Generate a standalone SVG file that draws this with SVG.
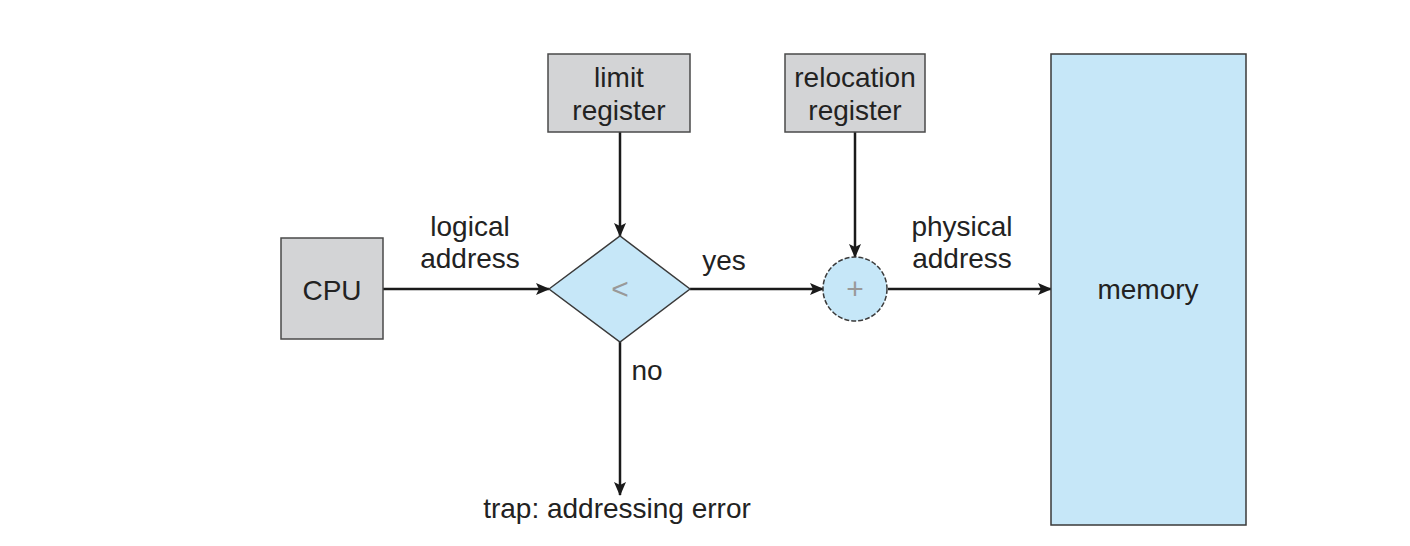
<svg xmlns="http://www.w3.org/2000/svg" width="1410" height="546" viewBox="0 0 1410 546">
<style>
.box{fill:#d3d4d6;stroke:#4a4a4a;stroke-width:1.5}
.blue{fill:#c6e7f8;stroke:#3a3a3a;stroke-width:1.5}
.t{font-family:"Liberation Sans",Arial,sans-serif;font-size:28px;fill:#222;text-anchor:middle}
.sym{font-family:"Liberation Sans",Arial,sans-serif;font-size:30px;fill:#999;text-anchor:middle}
.c{stroke:#1a1a1a;stroke-width:2.5;fill:none;marker-end:url(#ah)}
</style>
<defs>
<marker id="ah" viewBox="0 0 14 12" refX="13" refY="6" markerWidth="14" markerHeight="12" markerUnits="userSpaceOnUse" orient="auto">
<path d="M0,0 L14,6 L0,12 L3,6 Z" fill="#1a1a1a"/>
</marker>
</defs>
<rect width="1410" height="546" fill="#fff"/>
<g id="connectors">
<line class="c" x1="383" y1="289" x2="549" y2="289"/>
<line class="c" x1="620" y1="132" x2="620" y2="236"/>
<line class="c" x1="690" y1="289" x2="823" y2="289"/>
<line class="c" x1="855" y1="132" x2="855" y2="257"/>
<line class="c" x1="888" y1="289" x2="1051" y2="289"/>
<line class="c" x1="620" y1="342" x2="620" y2="495"/>
</g>
<g id="cpu">
<rect class="box" x="281" y="238" width="102" height="101"/>
<text class="t" x="332" y="300">CPU</text>
</g>
<g id="limit">
<rect class="box" x="548" y="54" width="142" height="78"/>
<text class="t" x="619" y="87">limit</text>
<text class="t" x="619" y="120">register</text>
</g>
<g id="relocation">
<rect class="box" x="785" y="54" width="140" height="78"/>
<text class="t" x="855" y="87">relocation</text>
<text class="t" x="855" y="120">register</text>
</g>
<g id="compare">
<polygon class="blue" points="549,289 620,236 690,289 620,342"/>
<text class="sym" x="620" y="299">&lt;</text>
</g>
<g id="adder">
<circle class="blue" cx="855" cy="289" r="32" stroke-dasharray="5,2"/>
<text class="sym" x="855" y="299">+</text>
</g>
<g id="memory">
<rect class="blue" x="1051" y="54" width="195" height="471"/>
<text class="t" x="1148" y="299">memory</text>
</g>
<g id="labels">
<text class="t" x="470" y="236">logical</text>
<text class="t" x="470" y="268">address</text>
<text class="t" x="724" y="270">yes</text>
<text class="t" x="962" y="236">physical</text>
<text class="t" x="962" y="268">address</text>
<text class="t" x="647" y="380">no</text>
<text class="t" x="617" y="518">trap: addressing error</text>
</g>
</svg>
